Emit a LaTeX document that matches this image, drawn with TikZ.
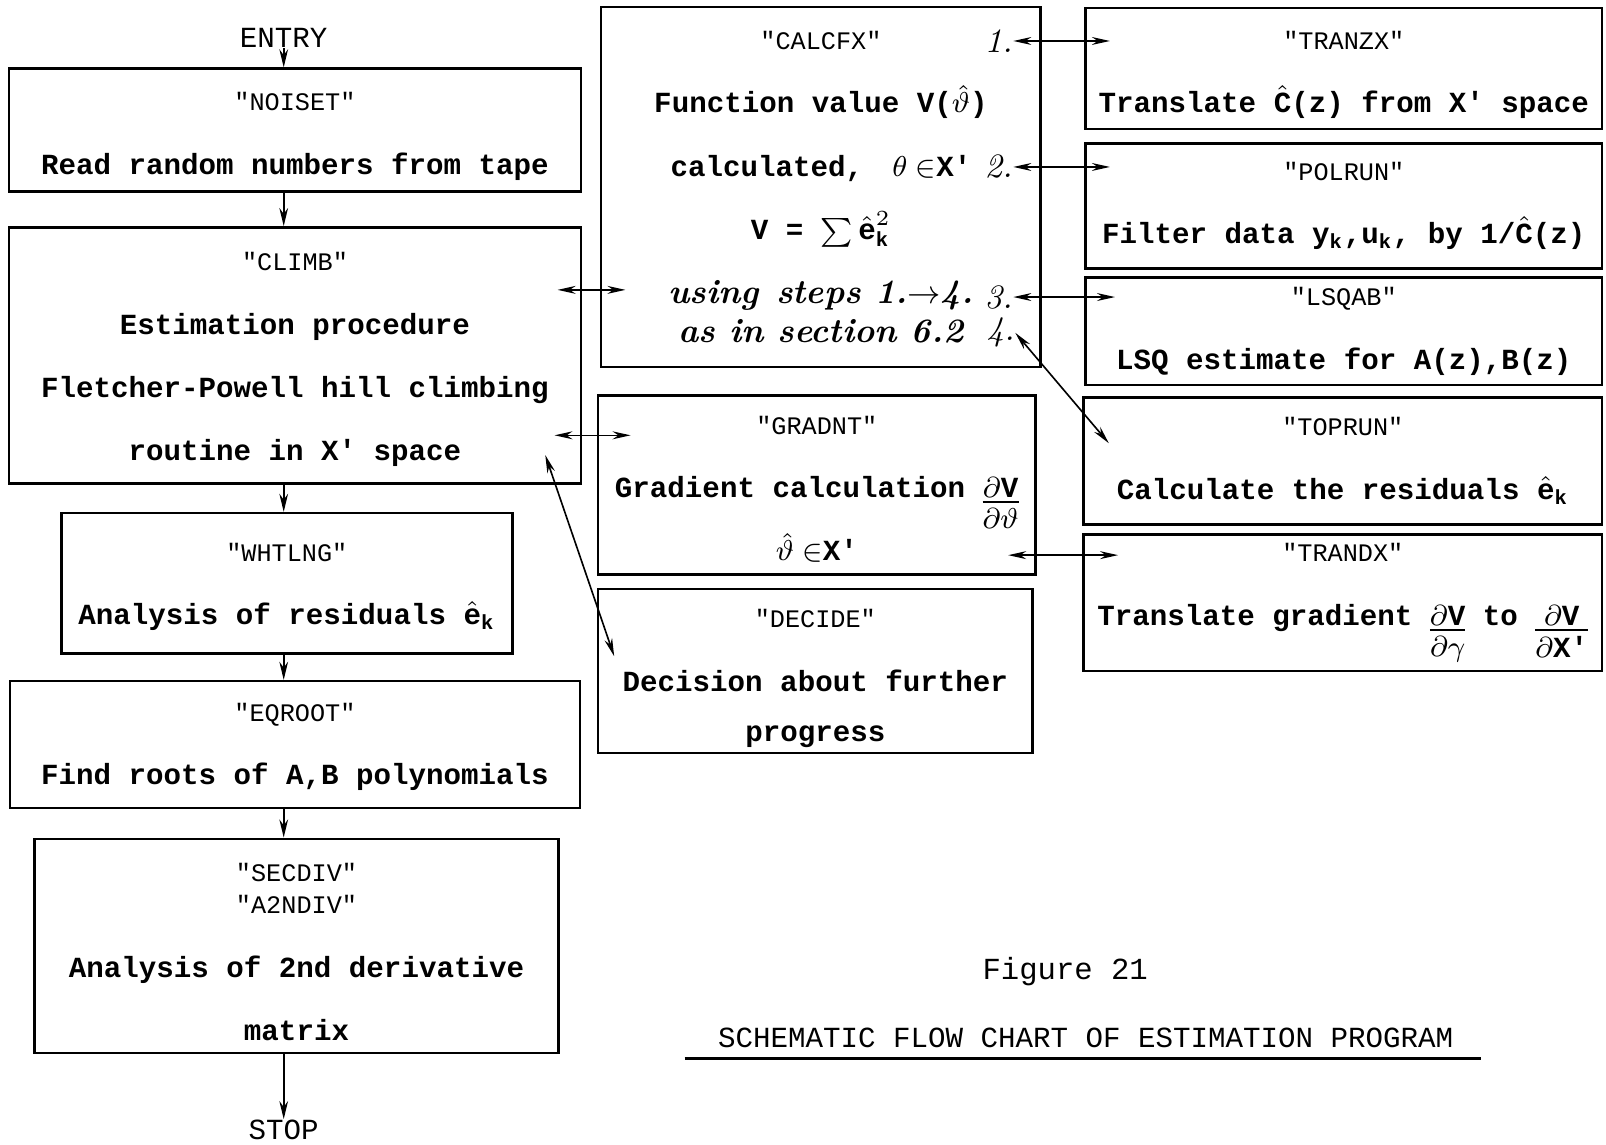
\documentclass[tikz,border=0pt]{standalone}
\usepackage{amsmath}
\usepackage{fontspec}
\setmonofont{Liberation Mono}
\usetikzlibrary{arrows.meta}

\newcommand\bodyfont{\ttfamily\bfseries\fontsize{8.1}{17.6}\selectfont}
\newcommand\namefont{\ttfamily\mdseries\fontsize{7}{17.6}\selectfont}
\newcommand\handfont{\rmfamily\itshape\fontsize{9.5}{17.6}\selectfont}
\newcommand\ek{$\hat{\text{e}}_{\text{k}}$}
\newcommand\dn[1]{\rule{0pt}{#1}}
% fraction with the numerator on the line, as typed
\newcommand\tyfrac[2]{\vtop{\baselineskip=0pt\lineskiplimit=0pt\lineskip=0pt
  \halign{\hfil##\hfil\cr #1\cr\noalign{\kern1pt\hrule height 0.6pt\kern1.5pt}#2\cr}}}

\tikzset{
  box/.style={draw, line width=0.7pt, inner sep=0pt, align=center, font=\bodyfont},
  txt/.style={inner sep=0pt, font=\ttfamily\fontsize{8.1}{17.6}\selectfont},
  num/.style={inner sep=0pt, font=\handfont},
  flow/.style={-{Stealth[length=5pt,width=2.4pt]}, line width=0.6pt},
  call/.style={{Stealth[length=5pt,width=2.2pt]}-{Stealth[length=5pt,width=2.2pt]}, line width=0.45pt}
}

\begin{document}
\begin{tikzpicture}[x=0.01cm, y=-0.01cm]
    \useasboundingbox (0,0) rectangle (1568,1117);

    % main column
    \node[txt] (entry) at (277,37) {ENTRY};
    \node[box, minimum width=5.58cm, minimum height=1.20cm] (noiset) at (288,127)
        {\dn{8.6pt}{\namefont"NOISET"}\\Read random numbers from tape};
    \node[box, minimum width=5.58cm, minimum height=2.50cm] (climb) at (288,347)
        {\dn{7.4pt}{\namefont"CLIMB"}\\Estimation procedure\\Fletcher-Powell hill climbing\\routine in X' space};
    \node[box, minimum width=4.40cm, minimum height=1.37cm] (whtlng) at (280,569.5)
        {\dn{6.9pt}{\namefont"WHTLNG"}\\Analysis of residuals \ek};
    \node[box, minimum width=5.56cm, minimum height=1.24cm] (eqroot) at (288,727)
        {\dn{6.3pt}{\namefont"EQROOT"}\\Find roots of A,B polynomials};
    \node[box, minimum width=5.11cm, minimum height=2.09cm] (secdiv) at (289.5,923.5)
        {\dn{8.6pt}{\namefont"SECDIV"}\\[-8.8pt]{\namefont"A2NDIV"}\\Analysis of 2nd derivative\\matrix};
    \node[txt] (stop) at (277,1103) {STOP};

    % called routines
    \node[box, minimum width=4.29cm, minimum height=3.51cm] (calcfx) at (801.5,182.5)
        {{\namefont"CALCFX"}\\Function value V($\hat{\vartheta}$)\\calculated,\quad $\theta\in$X'\\
         V = $\sum\hat{\text{e}}^{2}_{\text{k}}$\\{\handfont using\enspace steps 1.$\to$4.}\\[-6.8pt]
         {\handfont as in section 6.2}};
    \node[box, minimum width=4.27cm, minimum height=1.75cm] (gradnt) at (797.5,473.5)
        {\dn{7.4pt}{\namefont"GRADNT"}\\Gradient calculation \tyfrac{$\partial$V}{$\partial\vartheta$}\\$\hat{\vartheta}\in$X'};
    \node[box, minimum width=4.24cm, minimum height=1.60cm] (decide) at (796,655)
        {\dn{9.2pt}{\namefont"DECIDE"}\\Decision about further\\[-3.7pt]progress};

    \node[num] (n1) at (975,40) {1.};
    \node[num] (n2) at (975,163) {2.};
    \node[num] (n3) at (975,290) {3.};
    \node[num] (n4) at (977,325) {4.};

    % right column
    \node[box, minimum width=5.04cm, minimum height=1.18cm] (tranzx) at (1312,67)
        {\dn{8.6pt}{\namefont"TRANZX"}\\Translate $\hat{\text{C}}$(z) from X' space};
    \node[box, minimum width=5.04cm, minimum height=1.22cm] (polrun) at (1312,201)
        {{\namefont"POLRUN"}\\Filter data y$_{\text{k}}$,u$_{\text{k}}$, by 1/$\hat{\text{C}}$(z)};
    \node[box, minimum width=5.04cm, minimum height=1.05cm] (lsqab) at (1312,323.5)
        {{\namefont"LSQAB"}\\LSQ estimate for A(z),B(z)};
    \node[box, minimum width=5.06cm, minimum height=1.24cm] (toprun) at (1311,450)
        {{\namefont"TOPRUN"}\\Calculate the residuals \ek};
    \node[box, minimum width=5.06cm, minimum height=1.33cm] (trandx) at (1311,588.5)
        {{\namefont"TRANDX"}\\Translate gradient \tyfrac{$\partial$V}{$\partial\gamma$} to \tyfrac{$\partial$V}{$\partial$X'}};

    % caption
    \node[txt, font=\ttfamily\fontsize{8.5}{12}\selectfont] (fig) at (1040,949) {Figure 21};
    \node[txt] (title) at (1060,1013) {SCHEMATIC FLOW CHART OF ESTIMATION PROGRAM};
    \draw[line width=1pt] ([shift={(-32,11)}]title.base west) -- ([shift={(26,11)}]title.base east);

    % flow
    \draw[flow] (entry) -- (entry |- noiset.north);
    \draw[flow] (noiset.south -| entry) -- (climb.north -| entry);
    \draw[flow] (climb.south -| entry) -- (whtlng.north -| entry);
    \draw[flow] (whtlng.south -| entry) -- (eqroot.north -| entry);
    \draw[flow] (eqroot.south -| entry) -- (secdiv.north -| entry);
    \draw[flow] (secdiv.south -| entry) -- (stop.north);

    % calls
    \draw[call] ([shift={(-24,0)}]climb.east |- 0,283) -- ([shift={(25,0)}]calcfx.west |- 0,283);
    \draw[call] ([shift={(-27,0)}]climb.east |- 0,425) -- ([shift={(33,0)}]gradnt.west |- 0,425);
    \draw[call] ([shift={(17,67)}]decide.north west) -- ([shift={(-36,-29)}]climb.south east);
    \draw[call] (n1.east) -- ([shift={(25,0)}]n1.east -| tranzx.west);
    \draw[call] (n2.east) -- ([shift={(25,0)}]n2.east -| polrun.west);
    \draw[call] (n3.east) -- ([shift={(30,0)}]n3.east -| lsqab.west);
    \draw[call] (n4.east) -- ([shift={(26,46)}]toprun.north west);
    \draw[call] ([shift={(-28,0)}]gradnt.east |- 0,542) -- ([shift={(35,0)}]trandx.west |- 0,542);
\end{tikzpicture}
\end{document}
